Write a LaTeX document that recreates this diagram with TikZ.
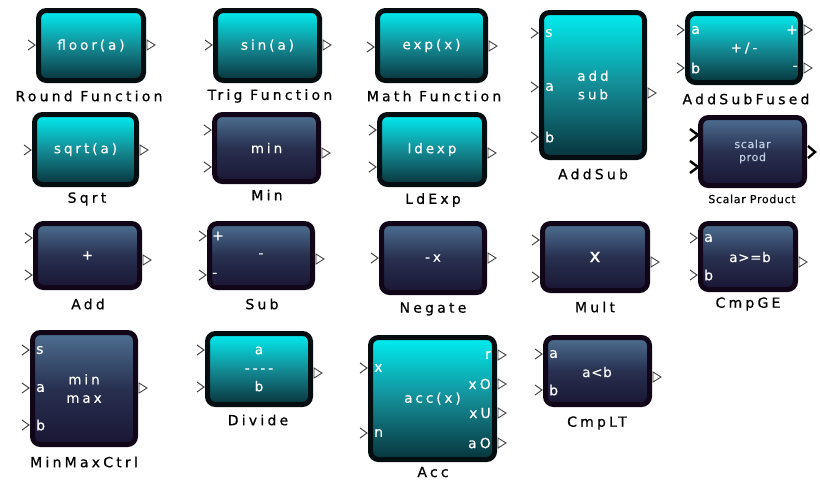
\documentclass[tikz,border=0pt]{standalone}
\usepackage{fontspec}
\setmainfont{DejaVu Sans}
\newfontfamily\lblfont[LetterSpace=23, FakeBold=0.6]{DejaVu Sans}
\newfontfamily\infont[LetterSpace=22, FakeBold=0.4]{DejaVu Sans}
\newfontfamily\tightfont[LetterSpace=5, FakeBold=0.4]{DejaVu Sans}
\newfontfamily\smlfont[LetterSpace=6, FakeBold=0.3]{DejaVu Sans}
\definecolor{cyantop}{RGB}{0,238,240}
\definecolor{cyanmid}{RGB}{20,140,150}
\definecolor{cyanbot}{RGB}{8,52,60}
\definecolor{cyanedge}{RGB}{4,14,16}
\definecolor{darktop}{RGB}{78,112,146}
\definecolor{darkmid}{RGB}{40,48,80}
\definecolor{darkbot}{RGB}{26,22,52}
\definecolor{darkedge}{RGB}{16,6,24}
\definecolor{portgray}{RGB}{70,70,70}
\definecolor{palelbl}{RGB}{190,205,225}
\tikzset{
  blockbase/.style={line width=5pt, rounded corners=8pt, inner sep=0pt, align=center,
    text=white, font=\infont\fontsize{13.5}{18.5}\selectfont},
  cyanblk/.style={blockbase, draw=cyanedge, top color=cyantop, bottom color=cyanbot, middle color=cyanmid},
  darkblk/.style={blockbase, draw=darkedge, top color=darktop, bottom color=darkbot, middle color=darkmid},
  lbl/.style={font=\lblfont\fontsize{14}{16}\selectfont, text=black, inner sep=0pt},
  intext/.style={font=\tightfont\fontsize{13.5}{15}\selectfont, text=white, inner sep=0pt},
  portlbl/.style={font=\infont\fontsize{14}{15}\selectfont, text=white, inner sep=0pt},
  inport/.style={draw=portgray, line width=1pt},
  outport/.style={draw=portgray, fill=white, line width=0.9pt, line join=miter},
  boldport/.style={draw=black, line width=2.4pt},
}
\newcommand\blk[8][]{\node[#3, minimum width={#6-#4-5}, minimum height={#7-#5-5}, #1] (#2) at ({(#4+#6)/2},{(#5+#7)/2}) {#8};}
\newcommand\pin[2]{\draw[inport] ({#1-8},{#2-5}) -- ({#1-1},{#2}) -- ({#1-8},{#2+5});}
\newcommand\pout[2]{\draw[outport] ({#1+1},{#2-5}) -- ({#1+9},{#2}) -- ({#1+1},{#2+5}) -- cycle;}
\begin{document}
\begin{tikzpicture}[x=1pt,y=-1pt]
\useasboundingbox (0,0) rectangle (820,483);
% ---------- row 1
\blk{round}{cyanblk}{36}{8}{146}{83}{floor(a)}
\pin{36}{45}\pout{146}{45}
\node[lbl] (roundl) at (89,96) {Round Function};

\blk{trig}{cyanblk}{213}{8}{322}{83}{sin(a)}
\pin{213}{45}\pout{322}{45}
\node[lbl] (trigl) at (270,96) {Trig Function};

\blk{math}{cyanblk}{375}{8}{488}{83}{exp(x)}
\pin{375}{47}\pout{488}{46}
\node[lbl] (mathl) at (434,96) {Math Function};

\blk{addsub}{cyanblk}{539}{10}{647}{160}{add\\sub}
\pin{539}{33}\pin{539}{87}\pin{539}{137}\pout{647}{93}
\node[portlbl,anchor=west] (addsubs) at (545,33) {s};
\node[portlbl,anchor=west] (addsuba) at (545,87) {a};
\node[portlbl,anchor=west] (addsubb) at (545,137) {b};
\node[lbl] (addsubl) at (593,174) {AddSub};

\blk{asf}{cyanblk}{685}{11}{803}{85}{+/-}
\pin{685}{30}\pin{685}{68}\pout{803}{30}\pout{803}{68}
\node[portlbl,anchor=west] (asfa) at (691,30) {a};
\node[portlbl,anchor=west] (asfb) at (691,68) {b};
\node[portlbl,anchor=east] (asfp) at (798,30) {+};
\node[portlbl,anchor=east] (asfm) at (798,68) {-};
\node[lbl] (asfl) at (746,99) {AddSubFused};
% ---------- row 2
\blk{sqrt}{cyanblk}{32}{112}{139}{187}{sqrt(a)}
\pin{32}{150}\pout{139}{150}
\node[lbl] (sqrtl) at (87,199) {Sqrt};

\blk{min}{darkblk}{212}{112}{321}{184}{min}
\pin{212}{130}\pin{212}{167}\pout{321}{153}
\node[lbl] (minl) at (267,195) {Min};

\blk{ldexp}{cyanblk}{377}{112}{487}{187}{ldexp}
\pin{377}{130}\pin{377}{167}\pout{487}{153}
\node[lbl] (ldexpl) at (433,200) {LdExp};

\blk[font=\smlfont\fontsize{11}{13}\selectfont, text=palelbl]{scal}{darkblk}{698}{115}{807}{188}{scalar\\prod}
\draw[boldport] (690,129) -- (698,135) -- (690,141);
\draw[boldport] (690,161) -- (698,167) -- (690,173);
\draw[boldport] (808,146) -- (815,152) -- (808,158);
\node[font=\smlfont\fontsize{11}{13}\selectfont, inner sep=0pt] (scall) at (752,199) {Scalar Product};
% ---------- row 3
\blk{add}{darkblk}{33}{221}{142}{290}{+}
\pin{33}{238}\pin{33}{275}\pout{142}{260}
\node[lbl] (addl) at (88,304) {Add};

\blk{sub}{darkblk}{207}{221}{315}{290}{-}
\pin{207}{236}\pin{207}{275}\pout{315}{259}
\node[portlbl,anchor=west] (subp) at (212,236) {+};
\node[portlbl,anchor=west] (subm) at (212,275) {-};
\node[lbl] (subl) at (262,304) {Sub};

\blk{neg}{darkblk}{379}{221}{487}{295}{-x}
\pin{379}{258}\pout{487}{258}
\node[lbl] (negl) at (433,309) {Negate};

\blk[font=\infont\fontsize{19}{20}\selectfont]{mult}{darkblk}{540}{221}{650}{293}{x}
\pin{540}{240}\pin{540}{277}\pout{650}{262}
\node[lbl] (multl) at (595,307) {Mult};

\blk{cmpge}{darkblk}{698}{221}{798}{292}{}
\node[intext] (cmpget) at (750,257) {a>=b};
\pin{698}{238}\pin{698}{275}\pout{798}{262}
\node[portlbl,anchor=west] (cmpgea) at (704,238) {a};
\node[portlbl,anchor=west] (cmpgeb) at (704,275) {b};
\node[lbl] (cmpgel) at (748,304) {CmpGE};
% ---------- row 4
\blk{mm}{darkblk}{30}{330}{138}{447}{min\\max}
\pin{30}{350}\pin{30}{388}\pin{30}{425}\pout{138}{388}
\node[portlbl,anchor=west] (mms) at (36,350) {s};
\node[portlbl,anchor=west] (mma) at (36,388) {a};
\node[portlbl,anchor=west] (mmb) at (36,425) {b};
\node[lbl] (mml) at (84,462) {MinMaxCtrl};

\blk{div}{cyanblk}{205}{331}{313}{407}{a\\----\\b}
\pin{205}{350}\pin{205}{387}\pout{313}{373}
\node[lbl] (divl) at (258,420) {Divide};

\blk{acc}{cyanblk}{368}{335}{497}{462}{acc(x)}
\pin{368}{368}\pin{368}{433}
\pout{497}{355}\pout{497}{384}\pout{497}{413}\pout{497}{443}
\node[portlbl,anchor=west] (accx) at (374,368) {x};
\node[portlbl,anchor=west] (accn) at (374,433) {n};
\node[portlbl,anchor=east] (accr) at (491,355) {r};
\node[portlbl,anchor=east] (accxo) at (491,384) {xO};
\node[portlbl,anchor=east] (accxu) at (491,413) {xU};
\node[portlbl,anchor=east] (accao) at (491,443) {aO};
\node[lbl] (accl) at (433,472) {Acc};

\blk{cmplt}{darkblk}{543}{335}{652}{407}{}
\node[intext] (cmpltt) at (597,372) {a<b};
\pin{543}{354}\pin{543}{390}\pout{652}{377}
\node[portlbl,anchor=west] (cmplta) at (549,354) {a};
\node[portlbl,anchor=west] (cmpltb) at (549,390) {b};
\node[lbl] (cmpltl) at (597,423) {CmpLT};
\end{tikzpicture}
\end{document}
